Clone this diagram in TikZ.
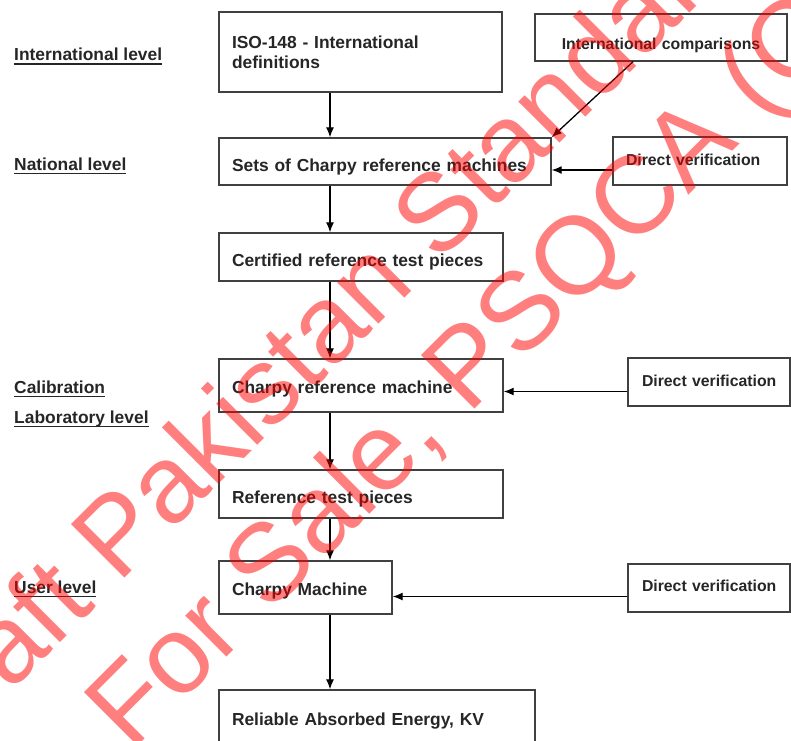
\documentclass[tikz,border=0pt]{standalone}
\usepackage{fontspec}
\setmainfont{Liberation Sans}
\usetikzlibrary{arrows.meta,calc}
\newcommand\undl[1]{\setbox0=\hbox{#1}\rlap{\rule[-4pt]{\wd0}{1.4pt}}\box0}
\begin{document}
\begin{tikzpicture}[x=1pt,y=-1pt,
  box/.style={draw=black!75, line width=1.4pt, rectangle, inner ysep=0pt, inner xsep=13pt,
     align=left, text=black!85, font=\bfseries\fontsize{17.4}{20}\selectfont},
  rbox/.style={box, font=\bfseries\fontsize{15.8}{18}\selectfont},
  bl/.style={text height=#1, text depth=0pt},
  lvl/.style={anchor=base west, inner sep=0pt, text=black!85, font=\bfseries\fontsize{17.4}{20}\selectfont},
  arr/.style={draw=black, line width=1.3pt, -{Latex[length=10pt,width=8pt]}},
  wmark/.style={anchor=base west, inner sep=0pt, text=red, text opacity=0.5,
     font=\fontsize{110}{110}\selectfont, rotate=45}]
\useasboundingbox (0,0) rectangle (791,740);
\clip (0,0) rectangle (791,740);
\fill[white] (0,0) rectangle (791,740);
% main column
\node[box, minimum width=283pt, minimum height=80pt, text width=257pt] (iso) at (360.5,52) {ISO-148 - International\\definitions};
\node[box, bl=20.4pt, minimum width=332pt, minimum height=47pt, text width=306pt] (sets) at (385,161.5) {Sets of Charpy reference machines};
\node[box, bl=19.4pt, minimum width=284pt, minimum height=48pt, text width=258pt] (cert) at (361,257) {Certified reference test pieces};
\node[box, bl=15.6pt, minimum width=284pt, minimum height=53pt, text width=258pt] (chref) at (361,385.5) {Charpy reference machine};
\node[box, bl=18.6pt, minimum width=284pt, minimum height=48pt, text width=258pt] (reft) at (361,494) {Reference test pieces};
\node[box, bl=15pt, minimum width=173pt, minimum height=53pt, text width=147pt] (chm) at (305.5,587.5) {Charpy Machine};
\node[box, bl=10pt, minimum width=316pt, minimum height=60pt, text width=290pt] (rel) at (377,720) {Reliable Absorbed Energy, KV};
% right column
\node[rbox, bl=23.6pt, align=center, minimum width=252pt, minimum height=47pt, text width=226pt] (intl) at (661,37.5) {International comparisons};
\node[rbox, bl=9.4pt, minimum width=174pt, minimum height=48pt, text width=148pt] (dv1) at (700,161) {\mbox{Direct verification}};
\node[rbox, bl=9.4pt, inner xsep=14pt, minimum width=162pt, minimum height=48pt, text width=134pt] (dv2) at (709,382) {\mbox{Direct verification}};
\node[rbox, bl=7.4pt, inner xsep=14pt, minimum width=162pt, minimum height=48pt, text width=134pt] (dv3) at (709,588) {\mbox{Direct verification}};
% level labels
\node[lvl] (l1) at (14,60.5) {\undl{International level}};
\node[lvl] (l2) at (14,170) {\undl{National level}};
\node[lvl] (l3) at (14,393) {\undl{Calibration}};
\node[lvl] (l4) at (14,423) {\undl{Laboratory level}};
\node[lvl] (l5) at (14,593) {\undl{User level}};
% connectors
\coordinate (col) at (330,0);
\draw[arr] (iso.south -| col) -- (sets.north -| col);
\draw[arr] (sets.south -| col) -- (cert.north -| col);
\draw[arr] (cert.south -| col) -- (chref.north -| col);
\draw[arr] (chref.south -| col) -- (reft.north -| col);
\draw[arr] (reft.south -| col) -- (chm.north -| col);
\draw[arr] (chm.south -| col) -- (rel.north -| col);
\draw[arr] ($(intl.south)+(-28,0)$) -- (sets.north east);
\draw[arr] ($(dv1.west)+(0,9)$) -- ($(sets.east)+(0,8.5)$);
\draw[arr] ($(dv2.west)+(0,9.5)$) -- ($(chref.east)+(0,6)$);
\draw[arr] ($(dv3.west)+(0,8.5)$) -- ($(chm.east)+(0,9)$);
% watermark
\node[wmark] (w1) at (-72,775) {Draft Pakistan Standard};
\node[wmark] (w2) at (131,753) {For Sale, PSQCA (C};
\end{tikzpicture}
\end{document}
